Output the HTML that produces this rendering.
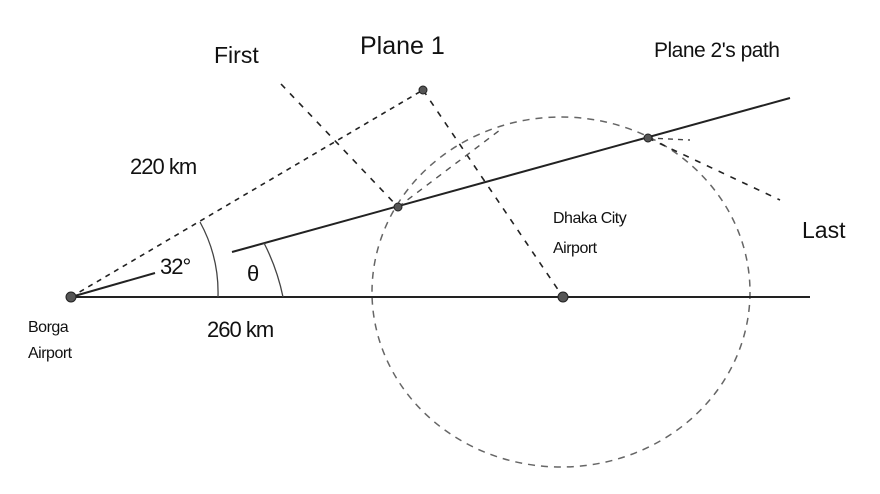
<!DOCTYPE html>
<html><head><meta charset="utf-8"><style>
html,body{margin:0;padding:0;background:#fff;width:880px;height:494px;overflow:hidden}
text{font-family:"Liberation Sans",sans-serif;fill:#111}
</style></head><body>
<svg width="880" height="494" viewBox="0 0 880 494">
<ellipse cx="561" cy="292" rx="189" ry="175" fill="none" stroke="#666" stroke-width="1.5" stroke-dasharray="7,6"/>
<line x1="71" y1="297" x2="810" y2="297" stroke="#222" stroke-width="2"/>
<line x1="71" y1="297" x2="423" y2="90" stroke="#222" stroke-width="1.6" stroke-dasharray="5,5"/>
<line x1="423" y1="90" x2="563" y2="297" stroke="#222" stroke-width="1.6" stroke-dasharray="6,7"/>
<line x1="232" y1="252" x2="790" y2="98" stroke="#222" stroke-width="2"/>
<line x1="71" y1="297" x2="155" y2="273" stroke="#222" stroke-width="2"/>
<line x1="281" y1="84" x2="398" y2="207" stroke="#222" stroke-width="1.6" stroke-dasharray="6,7"/>
<line x1="648" y1="138" x2="780" y2="200" stroke="#222" stroke-width="1.6" stroke-dasharray="6,7"/>
<line x1="648" y1="138" x2="690" y2="140" stroke="#444" stroke-width="1.4" stroke-dasharray="5,5"/>
<line x1="398" y1="207" x2="500" y2="130" stroke="#555" stroke-width="1.4" stroke-dasharray="6,6"/>
<path d="M 218 297 A 147 147 0 0 0 200 222" fill="none" stroke="#444" stroke-width="1.3"/>
<path d="M 283 297 A 212 212 0 0 0 264 243" fill="none" stroke="#444" stroke-width="1.3"/>
<circle cx="71" cy="297" r="5" fill="#555" stroke="#222"/>
<circle cx="563" cy="297" r="5" fill="#555" stroke="#222"/>
<circle cx="423" cy="90" r="4" fill="#555" stroke="#222"/>
<circle cx="398" cy="207" r="4" fill="#555" stroke="#222"/>
<circle cx="648" cy="138" r="4" fill="#555" stroke="#222"/>
<text x="360" y="54" font-size="25">Plane 1</text>
<text x="214" y="63" font-size="23">First</text>
<text x="654" y="57" font-size="21" letter-spacing="-0.5">Plane 2's path</text>
<text x="130" y="174" font-size="22" letter-spacing="-1">220 km</text>
<text x="160" y="274" font-size="22" letter-spacing="-1">32°</text>
<text x="247" y="281" font-size="22">θ</text>
<text x="207" y="337" font-size="22" letter-spacing="-1">260 km</text>
<text x="28" y="332" font-size="16" letter-spacing="-0.5">Borga</text>
<text x="28" y="358" font-size="16" letter-spacing="-0.5">Airport</text>
<text x="553" y="223" font-size="16" letter-spacing="-0.5">Dhaka City</text>
<text x="553" y="253" font-size="16" letter-spacing="-0.5">Airport</text>
<text x="802" y="238" font-size="23">Last</text>
</svg>
</body></html>
